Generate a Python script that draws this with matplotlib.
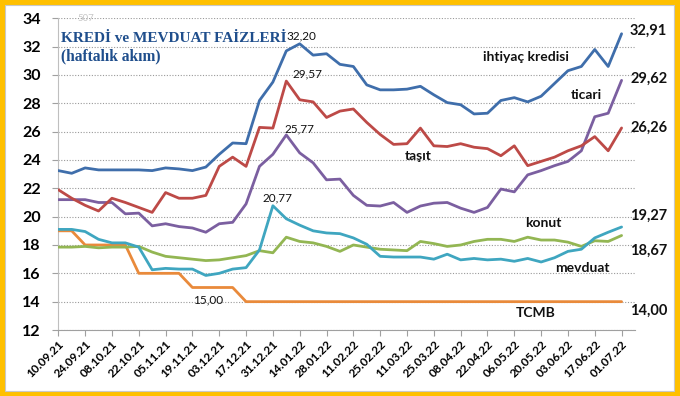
import matplotlib
matplotlib.use('Agg')
import matplotlib.pyplot as plt
from matplotlib.patches import Rectangle

weeks = ['10.09.21', '17.09.21', '24.09.21', '01.10.21', '08.10.21', '15.10.21', '22.10.21',
         '29.10.21', '05.11.21', '12.11.21', '19.11.21', '26.11.21', '03.12.21', '10.12.21',
         '17.12.21', '24.12.21', '31.12.21', '07.01.22', '14.01.22', '21.01.22', '28.01.22',
         '04.02.22', '11.02.22', '18.02.22', '25.02.22', '04.03.22', '11.03.22', '18.03.22',
         '25.03.22', '01.04.22', '08.04.22', '15.04.22', '22.04.22', '29.04.22', '06.05.22',
         '13.05.22', '20.05.22', '27.05.22', '03.06.22', '10.06.22', '17.06.22', '24.06.22',
         '01.07.22']

ihtiyac = [23.25, 23.06, 23.44, 23.3, 23.3, 23.3, 23.3, 23.25, 23.44, 23.37, 23.25, 23.5,
           24.4, 25.2, 25.15, 28.2, 29.5, 31.7, 32.20, 31.4, 31.5, 30.75, 30.6, 29.3, 28.95,
           28.95, 29.0, 29.2, 28.6, 28.05, 27.9, 27.25, 27.3, 28.2, 28.4, 28.1, 28.5, 29.4,
           30.3, 30.6, 31.8, 30.6, 32.91]
tasit = [21.9, 21.3, 20.8, 20.4, 21.3, 21.0, 20.65, 20.3, 21.7, 21.3, 21.3, 21.5, 23.55,
         24.2, 23.55, 26.3, 26.25, 29.57, 28.25, 28.1, 27.0, 27.45, 27.6, 26.65, 25.8, 25.1,
         25.15, 26.25, 25.0, 24.95, 25.15, 24.9, 24.8, 24.3, 25.0, 23.6, 23.9, 24.2, 24.65,
         25.0, 25.65, 24.65, 26.26]
ticari = [21.2, 21.2, 21.2, 21.0, 21.0, 20.2, 20.25, 19.35, 19.5, 19.3, 19.2, 18.9, 19.5,
          19.6, 20.9, 23.55, 24.4, 25.77, 24.5, 23.8, 22.6, 22.65, 21.5, 20.8, 20.75, 21.0,
          20.3, 20.75, 20.95, 21.0, 20.6, 20.3, 20.65, 21.95, 21.75, 22.95, 23.25, 23.6, 23.9,
          24.65, 27.05, 27.3, 29.62]
konut = [17.85, 17.85, 17.9, 17.8, 17.85, 17.85, 17.9, 17.5, 17.2, 17.1, 17.0, 16.9, 16.95,
         17.1, 17.25, 17.6, 17.45, 18.55, 18.25, 18.15, 17.9, 17.55, 18.0, 17.85, 17.7, 17.65,
         17.6, 18.25, 18.1, 17.9, 18.0, 18.25, 18.4, 18.4, 18.25, 18.55, 18.35, 18.35, 18.2,
         17.9, 18.3, 18.25, 18.67]
mevduat = [19.1, 19.1, 18.95, 18.4, 18.15, 18.15, 17.85, 16.25, 16.35, 16.3, 16.3, 15.85,
           16.0, 16.3, 16.4, 17.65, 20.77, 19.85, 19.4, 19.0, 18.85, 18.8, 18.5, 18.05, 17.2,
           17.15, 17.15, 17.15, 17.0, 17.35, 16.95, 17.05, 16.95, 17.0, 16.85, 17.05, 16.8,
           17.1, 17.55, 17.7, 18.5, 18.9, 19.27]
tcmb = [19, 19, 18, 18, 18, 18, 16, 16, 16, 16, 15, 15, 15, 15, 14, 14, 14, 14, 14, 14, 14,
        14, 14, 14, 14, 14, 14, 14, 14, 14, 14, 14, 14, 14, 14, 14, 14, 14, 14, 14, 14, 14, 14]

series = [
    ('TCMB', tcmb, '#E98A3B'),
    ('konut', konut, '#93B653'),
    ('mevduat', mevduat, '#3FA6C0'),
    ('ticari', ticari, '#7B5FA0'),
    ('taşıt', tasit, '#BD4A47'),
    ('ihtiyaç kredisi', ihtiyac, '#3F6EAB'),
]

W, H = 680, 396
fig = plt.figure(figsize=(W / 100, H / 100), dpi=100)
fig.patch.set_facecolor('#FFC000')
fig.patches.append(Rectangle((5 / W, 5 / H), 669 / W, 386 / H, transform=fig.transFigure,
                             facecolor='white', edgecolor='#C8C8C8', lw=0.8, zorder=-5))

ax = fig.add_axes([58.3 / W, 1 - 330 / H, (635 - 58.3) / W, (330 - 18.3) / H])
ax.set_zorder(2)
ax.set_facecolor('none')
x = list(range(len(weeks)))
for name, vals, col in series:
    ax.plot(x, vals, color=col, lw=2.0, solid_capstyle='round', zorder=3)

ax.set_xlim(0, 43)
ax.set_ylim(12, 34)
ax.set_yticks(range(12, 35, 2))
ax.yaxis.grid(True, linestyle=(0, (1, 1.5)), color='#9A9A9A', lw=0.8)
ax.set_axisbelow(True)
ax.set_xticks(x[::2])
ax.set_xticklabels(weeks[::2], rotation=45, ha='right', rotation_mode='anchor',
                   fontsize=8.6, fontweight='bold', family='Lato')
for lab in ax.get_yticklabels():
    lab.set_fontsize(11.5)
    lab.set_fontweight('bold')
    lab.set_family('Lato')
for s in ['top', 'right']:
    ax.spines[s].set_visible(False)
ax.spines['left'].set_color('#BFBFBF')
ax.spines['bottom'].set_color('#A0A0A0')
ax.tick_params(axis='both', color='#A0A0A0', length=4, width=0.8)
ax.tick_params(axis='y', pad=8.5)
ax.tick_params(axis='x', pad=2)

lab_kw = dict(family='Lato', fontweight='bold', fontsize=10, color='#111111')
ax.text(34.9, 31.28, 'ihtiyaç kredisi', ha='center', va='center', **lab_kw)
ax.text(39.35, 28.6, 'ticari', ha='center', va='center', **lab_kw)
ax.text(26.82, 24.28, 'taşıt', ha='center', va='center', **lab_kw)
ax.text(36.15, 19.55, 'konut', ha='center', va='center', **lab_kw)
ax.text(39.05, 16.37, 'mevduat', ha='center', va='center', **lab_kw)
ax.text(35.6, 13.19, 'TCMB', ha='center', va='center', **lab_kw)

end_kw = dict(family='Lato', fontweight='bold', fontsize=10.5, color='#111111',
              ha='left', va='center', clip_on=False)
for txt, yv in [('32,91', 33.15), ('29,62', 29.75), ('26,26', 26.26),
                ('19,27', 20.04), ('18,67', 17.62), ('14,00', 13.35)]:
    ax.text(42.63, yv, txt, **end_kw)

pt_kw = dict(family='Lato', fontsize=8.5, color='#111111', ha='center', va='center')
ax.text(18.1, 32.76, '32,20', **pt_kw)
ax.text(18.58, 30.08, '29,57', **pt_kw)
ax.text(17.95, 26.19, '25,77', **pt_kw)
ax.text(16.35, 21.31, '20,77', **pt_kw)
ax.text(11.2, 14.1, '15,00', **pt_kw)

fig.text(61 / W, 1 - 39 / H, 'KREDİ ve MEVDUAT FAİZLERİ', family='Liberation Serif',
         fontweight='bold', fontsize=11.0, color='#1F4E8C', ha='left', va='center', zorder=5)
fig.text(61 / W, 1 - 56.5 / H, '(haftalık akım)', family='Liberation Serif',
         fontweight='bold', fontsize=11.2, color='#1F4E8C', ha='left', va='center', zorder=5)
fig.text(86 / W, 1 - 18.5 / H, '507', family='Lato', fontsize=7, color='#C8C8C8',
         ha='center', va='center')

fig.savefig('out.png', dpi=100, facecolor=fig.get_facecolor())
